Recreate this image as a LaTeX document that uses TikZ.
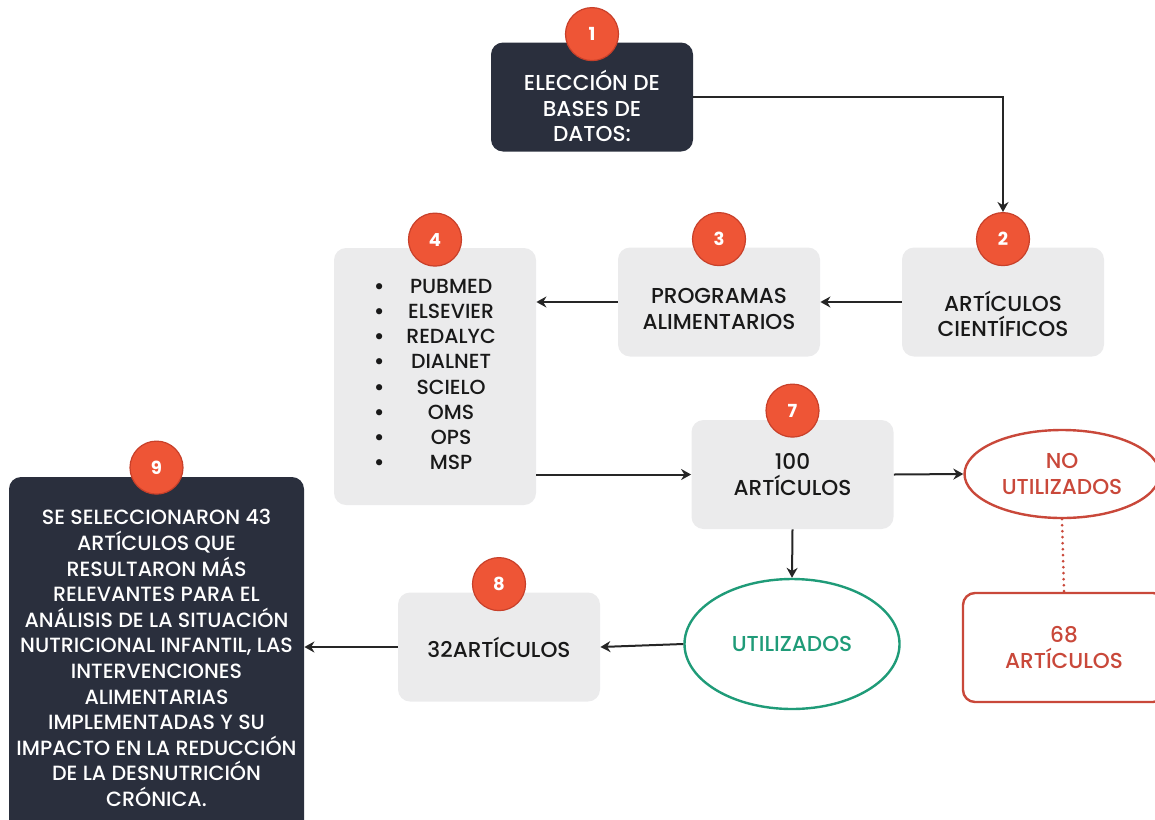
\documentclass[tikz,border=0pt]{standalone}
\usepackage{fontspec}
\setmainfont{Poppins}[UprightFont=* Medium, BoldFont=* Bold]
\usetikzlibrary{arrows.meta,shapes.geometric}
\definecolor{navy}{HTML}{2A2F3D}
\definecolor{boxgray}{HTML}{EBEBEC}
\definecolor{badgered}{HTML}{EE5536}
\definecolor{badgeline}{HTML}{C8402A}
\definecolor{okgreen}{HTML}{1F9B78}
\definecolor{nored}{HTML}{C9483A}
\begin{document}
\begin{tikzpicture}[x=0.5pt, y=-0.5pt,
	every node/.style = {align=center, font=\fontsize{10.8}{12.9}\selectfont},
	darkbox/.style = {shape=rectangle, rounded corners=6pt, fill=navy, text=white,
		minimum width=101pt, minimum height=54.5pt, inner sep=2pt},
	graybox/.style = {shape=rectangle, rounded corners=6pt, fill=boxgray, text=black!90,
		minimum width=101pt, minimum height=54.5pt, inner sep=2pt},
	badge/.style = {shape=circle, fill=badgered, draw=badgeline, line width=0.6pt,
		text=white, font=\fontsize{9}{10}\selectfont\bfseries,
		minimum size=26.5pt, inner sep=0pt},
	arrow/.style = {-{Stealth[length=5pt,width=5.5pt]}, line width=1pt, black!85}]
	\useasboundingbox (0,0) rectangle (1155,819);
	% boxes
	\node[darkbox, text height=45pt] (eleccion) at (592,97) {ELECCIÓN DE\\BASES DE\\DATOS:};
	\node[graybox, text height=35pt] (cientificos) at (1003,302) {ARTÍCULOS\\CIENTÍFICOS};
	\node[graybox, text height=27.5pt] (programas) at (719,302) {PROGRAMAS\\ALIMENTARIOS};
	\node[graybox, minimum height=128.5pt, font=\fontsize{10.2}{12.6}\selectfont] (bases) at (435,376.5) {%
		\begin{tabular}{@{}c@{\hspace{11pt}}c@{}}
			\bfseries• & PUBMED\\ \bfseries• & ELSEVIER\\ \bfseries• & REDALYC\\ \bfseries• & DIALNET\\
			\bfseries• & SCIELO\\ \bfseries• & OMS\\ \bfseries• & OPS\\ \bfseries• & MSP
		\end{tabular}};
	\node[graybox] (cien) at (792.5,474.5) {100\\ARTÍCULOS};
	\node[shape=ellipse, draw=nored, line width=1.2pt, text=nored,
		minimum width=97.5pt, minimum height=44pt, inner sep=0pt] (noutil) at (1062,474) {NO\\UTILIZADOS};
	\node[shape=rectangle, rounded corners=6pt, draw=nored, line width=1.2pt, fill=white, text=nored,
		minimum width=101pt, minimum height=54.5pt] (sesenta) at (1064,647.5) {68\\ARTÍCULOS};
	\node[shape=ellipse, draw=okgreen, line width=1.2pt, text=okgreen,
		minimum width=107.5pt, minimum height=65pt, inner sep=0pt] (util) at (792,644) {UTILIZADOS};
	\node[graybox] (treinta) at (499,647) {32ARTÍCULOS};
	\node[darkbox, minimum width=147.5pt, minimum height=181pt, font=\fontsize{10.3}{12.8}\selectfont] (final) at (156.5,658) {%
		SE SELECCIONARON 43\\ARTÍCULOS QUE\\RESULTARON MÁS\\RELEVANTES PARA EL\\
		ANÁLISIS DE LA SITUACIÓN\\NUTRICIONAL INFANTIL, LAS\\INTERVENCIONES\\ALIMENTARIAS\\
		IMPLEMENTADAS Y SU\\IMPACTO EN LA REDUCCIÓN\\DE LA DESNUTRICIÓN\\CRÓNICA.};
	% badges
	\node[badge] (n1) at ([yshift=4pt]eleccion.north) {1};
	\node[badge] (n2) at ([yshift=4pt]cientificos.north) {2};
	\node[badge] (n3) at ([yshift=4pt]programas.north) {3};
	\node[badge] (n4) at ([yshift=4pt]bases.north) {4};
	\node[badge] (n7) at ([yshift=4.5pt]cien.north) {7};
	\node[badge] (n8) at ([yshift=4pt]treinta.north) {8};
	\node[badge] (n9) at ([yshift=4.5pt]final.north) {9};
	% connectors
	\draw[arrow] (eleccion.east) -| (n2.north);
	\draw[arrow] (cientificos.west) -- (programas.east);
	\draw[arrow] (programas.west) -- (bases.east |- programas.west);
	\draw[arrow] (bases.east |- cien.west) -- (cien.west);
	\draw[arrow] (cien.east) -- (noutil.west);
	\draw[arrow] (cien.south) -- (util.north);
	\draw[arrow] (util.west) -- (treinta.east);
	\draw[arrow] (treinta.west) -- (final.east |- treinta.west);
	\draw[nored, line width=1.5pt, line cap=round, dash pattern=on 0pt off 3pt] (noutil.south) -- (sesenta.north);
\end{tikzpicture}
\end{document}
